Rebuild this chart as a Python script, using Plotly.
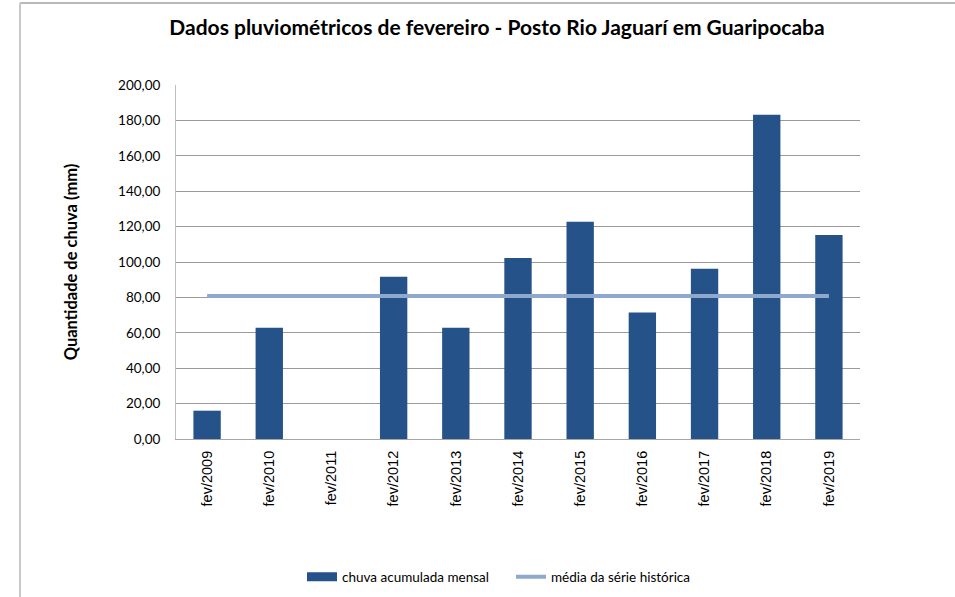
import plotly.graph_objects as go

categories = ["fev/2009", "fev/2010", "fev/2011", "fev/2012", "fev/2013", "fev/2014",
              "fev/2015", "fev/2016", "fev/2017", "fev/2018", "fev/2019"]
chuva_mensal = [16.0, 62.8, None, 91.6, 62.8, 102.3, 122.7, 71.4, 96.2, 183.2, 115.3]
media_historica = [80.8] * len(categories)

y_ticks = [0, 20, 40, 60, 80, 100, 120, 140, 160, 180, 200]

title_text = "Dados pluviométricos de fevereiro - Posto Rio Jaguarí em Guaripocaba"
y_title = "Quantidade de chuva (mm)"
bar_name = "chuva acumulada mensal"
line_name = "média da série histórica"

BAR_COLOR = "#26528A"
LINE_COLOR = "#8EA8CE"

fig = go.Figure()
fig.add_trace(go.Bar(
    x=categories, y=chuva_mensal, name=bar_name, showlegend=False,
    marker=dict(color=BAR_COLOR, line=dict(width=0)), width=0.44,
))
fig.add_trace(go.Scatter(
    x=categories, y=media_historica, name=line_name, showlegend=False,
    mode="lines", line=dict(color=LINE_COLOR, width=4),
))
# legend entries (wide rectangle for the bar series, as in the original)
fig.add_trace(go.Scatter(
    x=[None], y=[None], name=bar_name, mode="lines",
    line=dict(color=BAR_COLOR, width=9),
))
fig.add_trace(go.Scatter(
    x=[None], y=[None], name=line_name, mode="lines",
    line=dict(color=LINE_COLOR, width=4),
))

L, R, T, B = 176, 860, 85, 439
W, H = 955, 597

def px_x(p):
    return (p - L) / (R - L)

def px_y(p):
    return (B - p) / (B - T)

fig.update_layout(
    width=W, height=H,
    margin=dict(l=L, r=W - R, t=T, b=H - B, autoexpand=False),
    paper_bgcolor="white", plot_bgcolor="white",
    separators=",.",
    font=dict(family="Lato, Liberation Sans, sans-serif", color="#000000"),
    title=dict(text="<b>" + title_text + "</b>", xref="container", x=497 / W, xanchor="center",
               yref="container", y=1 - 28 / H, yanchor="middle", font=dict(size=21)),
    showlegend=True,
    legend=dict(orientation="h", xref="container", x=302 / W, xanchor="left",
                yref="container", y=1 - 577 / H, yanchor="middle",
                font=dict(size=13.5), itemwidth=30, tracegroupgap=0,
                entrywidth=164, entrywidthmode="pixels",
                bgcolor="rgba(0,0,0,0)"),
    bargap=0.56,
    shapes=[
        dict(type="line", xref="paper", yref="paper", x0=px_x(20), x1=px_x(955),
             y0=px_y(3), y1=px_y(3), line=dict(color="#B8B8B8", width=2)),
        dict(type="line", xref="paper", yref="paper", x0=px_x(20), x1=px_x(20),
             y0=px_y(3), y1=px_y(597), line=dict(color="#C8C8C8", width=2)),
    ],
)
fig.update_xaxes(
    type="category", tickangle=-90, tickfont=dict(size=14.5, family="Liberation Sans, Arial, sans-serif"),
    showline=True, linecolor="#A6A6A6", linewidth=1, showgrid=False, ticks="",
    ticklabelstandoff=5, automargin=False,
)
fig.update_yaxes(
    range=[0, 200], tickvals=y_ticks, tickformat=".2f", tickfont=dict(size=13.5),
    showgrid=True, gridcolor="#9A9A9A", gridwidth=1,
    showline=True, linecolor="#BFBFBF", linewidth=1, ticks="", zeroline=False,
    ticklabelstandoff=12, automargin=False,
    title=dict(text="<b>" + y_title + "</b>", font=dict(size=16.5), standoff=36),
)

fig.write_html("out.html", config={"displayModeBar": False},
               post_script="document.body.style.margin='0';")
